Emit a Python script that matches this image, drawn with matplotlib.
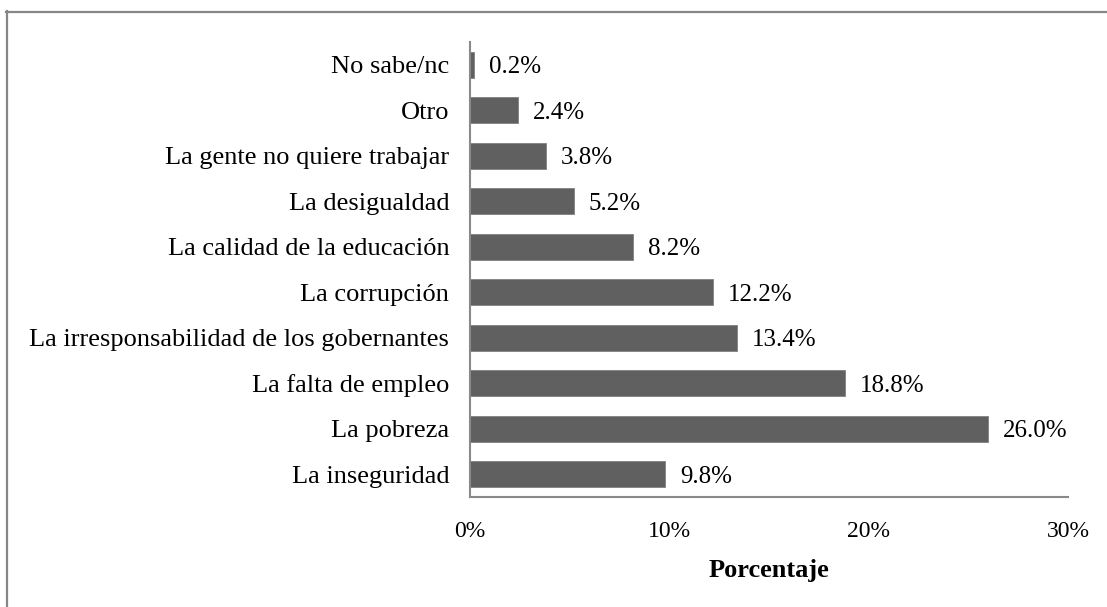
import matplotlib
matplotlib.use("Agg")
import matplotlib.pyplot as plt
from matplotlib.lines import Line2D
from matplotlib.ticker import FuncFormatter

categories = ["No sabe/nc", "Otro", "La gente no quiere trabajar", "La desigualdad",
              "La calidad de la educación", "La corrupción",
              "La irresponsabilidad de los gobernantes", "La falta de empleo",
              "La pobreza", "La inseguridad"]
values = [0.2, 2.4, 3.8, 5.2, 8.2, 12.2, 13.4, 18.8, 26.0, 9.8]
xticks = [0, 10, 20, 30]

plt.rcParams['font.family'] = ['Liberation Serif', 'DejaVu Serif']

W, H = 1107, 607
fig = plt.figure(figsize=(W / 100, H / 100), dpi=100)
ax = fig.add_axes([470 / W, 1 - 497 / H, (1068 - 470) / W, (497 - 42) / H])

n = len(categories)
ypos = [n - 1 - i for i in range(n)]
ax.barh(ypos, values, height=0.57, color="#606060", edgecolor="#808080", linewidth=0.6)
for y, v in zip(ypos, values):
    ax.text(v + 0.75, y, f"{v:.1f}%", va="center_baseline", ha="left", fontsize=18, color="black")

ax.set_yticks(ypos)
ax.set_yticklabels(categories, fontsize=19)
ax.set_ylim(-0.5, n - 0.5)
ax.set_xlim(0, 30)
ax.set_xticks(xticks)
ax.xaxis.set_major_formatter(FuncFormatter(lambda v, p: f"{v:.0f}%"))
ax.tick_params(axis='x', length=0, pad=17.5, labelsize=17)
ax.tick_params(axis='y', length=0, pad=15)
ax.set_xlabel("Porcentaje", fontsize=19, fontweight="bold", labelpad=12)

for s in ["top", "right"]:
    ax.spines[s].set_visible(False)
for s in ["left", "bottom"]:
    ax.spines[s].set_color("#898989")
    ax.spines[s].set_linewidth(1.5)

# figure border (left and top visible)
fig.add_artist(Line2D([6.5 / W, 6.5 / W], [0, 1 - 11 / H], transform=fig.transFigure,
                      color="#878787", linewidth=1.6))
fig.add_artist(Line2D([6 / W, 1], [1 - 11.5 / H, 1 - 11.5 / H], transform=fig.transFigure,
                      color="#878787", linewidth=1.6))

fig.savefig("out.png", dpi=100)
